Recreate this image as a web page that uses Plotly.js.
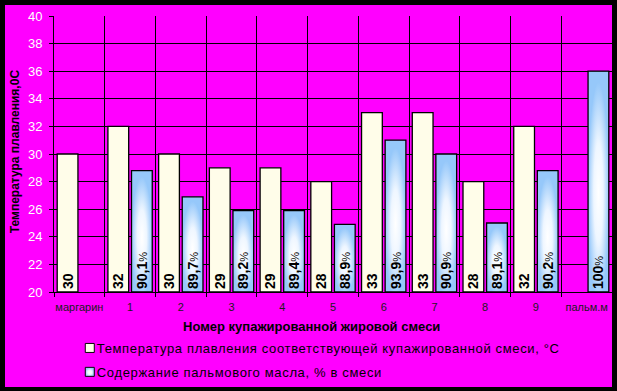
<!DOCTYPE html>
<html>
<head>
<meta charset="utf-8">
<script src="https://cdn.plot.ly/plotly-3.0.1.min.js"></script>
<style>
  html, body { margin: 0; padding: 0; background: #000; }
  #wrap { width: 617px; height: 391px; box-sizing: border-box; border-style: solid; border-color: #000;
          border-width: 5px 5px 4px 5px; background: #FF00FF; }
  #chart { width: 607px; height: 382px; }
  .legendtext { letter-spacing: 0.65px; }
</style>
</head>
<body>
<div id="wrap"><div id="chart"></div></div>
<script>
// ---- data ----
const categories = ['маргарин', '1', '2', '3', '4', '5', '6', '7', '8', '9', 'пальм.м'];
const meltTemp = [30, 32, 30, 29, 29, 28, 33, 33, 28, 32, null];          // °C
const palmBarHeight = [null, 28.8, 26.9, 25.9, 25.9, 24.9, 31, 30, 25, 28.8, 36]; // bar tops as drawn
const palmContent = [null, 90.1, 89.7, 89.2, 89.4, 88.9, 93.9, 90.9, 89.1, 90.2, 100]; // % labels

const axisBase = 20;
const seriesNames = [
  'Температура плавления соответствующей купажированной смеси, °С',
  'Содержание пальмового масла, % в смеси'
];

const fmtPct = v => v === null ? '' :
  (Number.isInteger(v) ? String(v) : v.toFixed(1).replace('.', ',')) +
  "<span style='font-weight:normal;font-size:11px'>%</span>";

const font = 'Liberation Sans, Arial, sans-serif';
const barText = {family: font, size: 14, color: '#000', weight: 'bold'};

const traces = [
  {
    type: 'bar', name: seriesNames[0], x: categories,
    y: meltTemp.map(v => v === null ? null : v - axisBase), base: axisBase,
    text: meltTemp.map(v => v === null ? '' : String(v)),
    textposition: 'inside', insidetextanchor: 'start', textangle: -90, constraintext: 'none',
    textfont: barText, insidetextfont: barText,
    marker: {color: '#FFFDE9', line: {color: '#000', width: 1.3}},
    legendgroup: 'a', hoverinfo: 'skip'
  },
  {
    type: 'bar', name: seriesNames[1], x: categories,
    y: palmBarHeight.map(v => v === null ? null : v - axisBase), base: axisBase,
    text: palmContent.map(fmtPct),
    textposition: 'inside', insidetextanchor: 'start', textangle: -90, constraintext: 'none',
    textfont: barText, insidetextfont: barText,
    marker: {color: '#BCDCFB', line: {color: '#000', width: 1.3}},
    legendgroup: 'b', hoverinfo: 'skip'
  }
];

const layout = {
  width: 607, height: 382,
  margin: {l: 49, r: 0, t: 11, b: 92},
  paper_bgcolor: '#FF00FF', plot_bgcolor: '#FF00FF',
  font: {family: font, color: '#000'},
  barmode: 'group', bargap: 0.07, bargroupgap: 0.12,
  showlegend: true,
  legend: {
    x: 0.005, xanchor: 'left', y: -0.15, yanchor: 'top',
    bgcolor: 'rgba(0,0,0,0)', font: {family: font, size: 13, color: '#000'},
    traceorder: 'grouped', tracegroupgap: 4
  },
  xaxis: {
    type: 'category', tickson: 'boundaries', tickangle: 0,
    showgrid: true, gridcolor: '#000', gridwidth: 1,
    showline: true, linecolor: '#000', linewidth: 1,
    ticks: 'outside', ticklen: 4, tickcolor: '#000', ticklabelstandoff: 5,
    tickfont: {family: font, size: 11, color: '#1a1a1a'},
    fixedrange: true
  },
  yaxis: {
    range: [20, 40], dtick: 2, tick0: 20,
    showgrid: true, gridcolor: '#000', gridwidth: 1,
    showline: true, linecolor: '#000', linewidth: 1,
    ticks: 'outside', ticklen: 4, tickcolor: '#000', ticklabelstandoff: 4,
    tickfont: {family: font, size: 13, color: '#FFFFFF'},
    zeroline: false, fixedrange: true
  },
  annotations: [
    {
      text: 'Номер купажированной жировой смеси', xref: 'paper', yref: 'paper',
      x: 0.4606, y: -0.125, xanchor: 'center', yanchor: 'middle', showarrow: false,
      font: {family: font, size: 13, color: '#000', weight: 'bold'}
    },
    {
      text: 'Температура плавления,0С', xref: 'paper', yref: 'paper',
      x: -0.0699, y: 0.51, xanchor: 'center', yanchor: 'middle', showarrow: false, textangle: -90,
      font: {family: font, size: 12, color: '#000', weight: 'bold'}
    }
  ]
};

Plotly.newPlot('chart', traces, layout, {staticPlot: true, displayModeBar: false}).then(gd => {
  // light-blue gradient fill for the palm-oil bars (as in the reference)
  const svgNS = 'http://www.w3.org/2000/svg';
  const svg = gd.querySelector('.main-svg');
  const defs = document.createElementNS(svgNS, 'defs');
  const g = document.createElementNS(svgNS, 'radialGradient');
  g.setAttribute('id', 'palmGrad');
  g.setAttribute('cx', '0.5'); g.setAttribute('cy', '0.55'); g.setAttribute('r', '0.5');
  [['0', '#FFFFFF'], ['0.45', '#EEF6FF'], ['1', '#96C8FA']].forEach(([o, c]) => {
    const s = document.createElementNS(svgNS, 'stop');
    s.setAttribute('offset', o); s.setAttribute('stop-color', c);
    g.appendChild(s);
  });
  defs.appendChild(g);
  svg.insertBefore(defs, svg.firstChild);
  const barTraces = gd.querySelectorAll('.barlayer .trace');
  if (barTraces[1]) barTraces[1].querySelectorAll('.point path').forEach(p => p.style.fill = 'url(#palmGrad)');
  const legendTraces = gd.querySelectorAll('.legend .traces');
  legendTraces.forEach((t, i) => {
    t.querySelectorAll('.legendpoints path').forEach(p => {
      const prev = p.getAttribute('transform') || '';
      p.setAttribute('transform', prev + ' translate(13,0) scale(0.75)');
      if (i === 1) p.style.fill = 'url(#palmGrad)';
    });
  });
});
</script>
</body>
</html>
